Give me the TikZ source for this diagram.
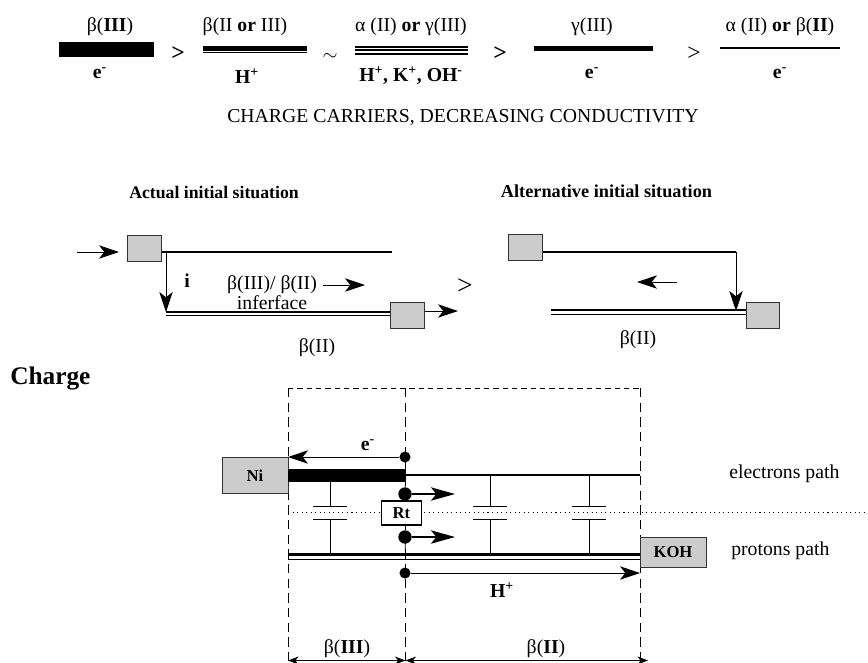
\documentclass[tikz,border=0pt]{standalone}
\usepackage{fontspec}
\setmainfont{Liberation Serif}
\usetikzlibrary{arrows.meta,positioning}

\tikzset{
  lab/.style={inner sep=0pt,font=\fontsize{14.8}{16}\selectfont},
  boldlab/.style={inner sep=0pt,font=\fontsize{14.8}{16}\selectfont\bfseries},
  headlab/.style={inner sep=0pt,font=\fontsize{13.3}{15}\selectfont\bfseries},
  greybox/.style={draw=black!80,fill=black!20,line width=0.7pt,inner sep=0pt,font=\fontsize{12.5}{14}\selectfont\bfseries},
  flowarrow/.style={-{Stealth[length=15pt,width=10pt,inset=4pt]},line width=0.6pt},
  bigarrow/.style={-{Stealth[length=18pt,width=10pt,inset=4pt]},line width=1.5pt},
  widtharrow/.style={{Stealth[length=8pt,width=6pt]}-{Stealth[length=8pt,width=6pt]},line width=0.6pt},
  tinydot/.style={circle,fill=black,inner sep=0pt,minimum size=8.3pt},
  frameline/.style={line width=0.7pt,dash pattern=on 7pt off 4pt},
  wire/.style={line width=0.6pt},
  metal/.style={line width=2.2pt},
}

\begin{document}
\begin{tikzpicture}[x=0.75pt,y=-0.75pt]
\useasboundingbox (0,0) rectangle (868,662);

% Conductivity ranking along the top
\node[lab] (lbeta3) at (110,27) {β(\textbf{III})};
\node[lab] (lbeta23) at (245,27) {β(II \textbf{or} III)};
\node[lab] (lalpha) at (411,27) {α (II) \textbf{or} γ(III)};
\node[lab] (lgamma) at (592,27) {γ(III)};
\node[lab] (lalphabeta) at (780,27) {α (II) \textbf{or} β(\textbf{II})};

\fill (59,42) rectangle (154,57);
\fill (203,46) rectangle (307,50.5);
\draw[line width=0.8pt] (203,52.5) -- (307,52.5);
\fill (355,45.5) rectangle (468,47.5);
\fill (355,49) rectangle (468,51);
\fill (355,52.5) rectangle (468,54.5);
\fill (534,46) rectangle (653,51);
\draw[line width=1.2pt] (720,48) -- (840,48);

\node[boldlab] (ce1) at (100,73) {e\textsuperscript{-}};
\node[boldlab] (ch1) at (247,76) {H\textsuperscript{+}};
\node[boldlab] (cmix) at (411,76) {H\textsuperscript{+}, K\textsuperscript{+}, OH\textsuperscript{-}};
\node[boldlab] (ce2) at (592,73) {e\textsuperscript{-}};
\node[boldlab] (ce3) at (780,73) {e\textsuperscript{-}};

\node[boldlab,scale=1.2] (gt1) at (178,54) {>};
\node[lab] (sim1) at (330,57) {$\sim$};
\node[boldlab,scale=1.2] (gt2) at (500,54) {>};
\node[lab,scale=1.2] (gt3) at (694,54) {>};

\node[lab] (carriers) at (463,117) {CHARGE CARRIERS, DECREASING CONDUCTIVITY};

% Actual initial situation
\node[headlab] (actual) at (214,192) {Actual initial situation};
\node[greybox,minimum width=25pt,minimum height=19.5pt] (boxa) at (144.5,248) {};
\node[greybox,minimum width=25pt,minimum height=19pt] (boxb) at (407.5,315.5) {};
\coordinate (ain) at (77,252);
\coordinate (ainend) at (119,252);
\coordinate (atop) at (392,252);
\coordinate (acorner) at (166,252);
\coordinate (abend) at (166,312);
\coordinate (aout) at (458,311);
\coordinate (adrift) at (323,285);
\coordinate (adriftend) at (365,285);

\draw[flowarrow] (ain) -- (ainend);
\draw[metal] (boxa.east |- atop) -- (atop);
\draw[flowarrow] (acorner) -- (abend);
\draw[metal] (abend) -- (boxb.west |- abend);
\draw[wire] (166,315.5) -- (boxb.west |- 0,315.5);
\draw[flowarrow] (boxb.east |- aout) -- (aout);
\draw[flowarrow] (adrift) -- (adriftend);

\node[boldlab] (ilab) at (187,281) {i};
\node[lab] (iface1) at (272,285) {β(III)/ β(II)};
\node[lab] (iface2) at (272,303) {inferface};
\node[lab] (abeta) at (317,348) {β(II)};
\node[lab,scale=1.4] (gtmid) at (465,287) {>};

% Alternative initial situation
\node[headlab,font=\fontsize{13.7}{15}\selectfont\bfseries] (altern) at (606.5,191) {Alternative initial situation};
\node[greybox,minimum width=25pt,minimum height=19.5pt] (boxc) at (525.5,247.5) {};
\node[greybox,minimum width=25pt,minimum height=19.5pt] (boxd) at (763,315) {};
\coordinate (ccorner) at (736,252);
\coordinate (cbend) at (736,311);
\coordinate (cstart) at (551,310);
\coordinate (cback) at (677,282);
\coordinate (cbackend) at (637,282);

\draw[metal] (boxc.east |- ccorner) -- (ccorner);
\draw[flowarrow] (ccorner) -- (cbend);
\draw[metal] (cstart) -- (boxd.west |- cstart);
\draw[wire] (551,314.5) -- (boxd.west |- 0,314.5);
\draw[flowarrow] (cback) -- (cbackend);
\node[lab] (cbeta) at (638,340) {β(II)};

% Charge
\node[boldlab,font=\fontsize{19}{21}\selectfont\bfseries,anchor=west] (charge) at (10,378) {Charge};

% Dashed frame of the two zones
\coordinate (ftl) at (288,388);
\coordinate (ftm) at (405.5,388);
\coordinate (ftr) at (640,388);
\coordinate (fbl) at (288,660.5);
\coordinate (fbm) at (405.5,660.5);
\coordinate (fbr) at (640,660.5);
\coordinate (fbrend) at (648,660.5);
\draw[frameline,dash pattern=on 4pt off 3pt] (ftl) -- (ftr);
\draw[frameline] (ftl) -- (fbl);
\draw[frameline] (ftm) -- (fbm);
\draw[frameline] (ftr) -- (fbr);

\draw[line width=0.7pt,dash pattern=on 0.8pt off 2.6pt] (288,512) -- (868,512);

\node[greybox,minimum width=49.5pt,minimum height=27.5pt] (ni) at (255,475.5) {Ni};
\node[greybox,minimum width=49.5pt,minimum height=22.5pt] (koh) at (673,552) {KOH};
\node[draw,fill=white,line width=0.8pt,minimum width=30pt,minimum height=18pt,inner sep=0pt,font=\fontsize{12.5}{14}\selectfont\bfseries] (rt) at (401.5,513) {Rt};

% Electron and proton paths
\fill (288,469) rectangle (406,482);
\draw[metal] (406,475) -- (640,475);
\draw[metal] (288,554.5) -- (koh.west |- 0,554.5);
\draw[wire] (288,559) -- (koh.west |- 0,559);

% Capacitors
\foreach \xc/\yt in {330/482,490/475,589/475}{
  \draw[wire] (\xc,\yt) -- (\xc,506);
  \draw[wire] (\xc-17,506) -- (\xc+17,506);
  \draw[wire] (\xc-17,519) -- (\xc+17,519);
  \draw[wire] (\xc,519) -- (\xc,554);
}

% Charging points
\node[tinydot] (dota) at (405,457) {};
\node[tinydot,minimum size=10pt] (dotb) at (405,494) {};
\node[tinydot,minimum size=10pt] (dotc) at (405,537) {};
\node[tinydot] (dotd) at (405,573) {};
\coordinate (ebend) at (288,457);
\coordinate (hend) at (640,573);
\coordinate (bend) at (455,494);
\coordinate (cend) at (455,537);

\draw[flowarrow] (dota) -- (ebend);
\draw[bigarrow] (dotb) -- (bend);
\draw[bigarrow] (dotc) -- (cend);
\draw[flowarrow] (dotd) -- (hend);
\draw[wire] (405.5,482) -- (dotb);
\draw[wire] (dotb) -- (rt.north -| dotb);
\draw[wire] (rt.south -| dotc) -- (dotc);
\draw[wire] (dotc) -- (405.5,555);

\node[boldlab] (elab) at (368,445) {e\textsuperscript{-}};
\node[boldlab] (hlab) at (502,590) {H\textsuperscript{+}};
\node[lab,anchor=west] (epath) at (729,474) {electrons path};
\node[lab,anchor=west] (ppath) at (731,551) {protons path};
\node[lab] (zone3) at (347,649) {β(\textbf{III})};
\node[lab] (zone2) at (546,649) {β(\textbf{II})};

% Zone widths
\draw[widtharrow] (fbl) -- (fbm);
\draw[widtharrow] (fbm) -- (fbrend);

\end{tikzpicture}
\end{document}
